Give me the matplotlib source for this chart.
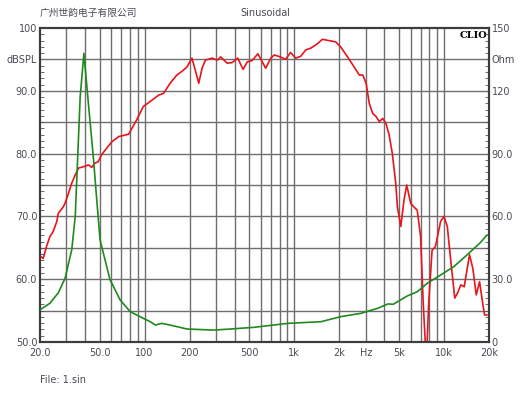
import numpy as np
import matplotlib
matplotlib.use('Agg')
import matplotlib.pyplot as plt
from matplotlib.ticker import FixedLocator, NullFormatter

plt.rcParams['font.family'] = ['DejaVu Sans', 'Noto Sans CJK SC']

# SPL curve (dB)
spl_freq = [20, 21.0, 22.1, 23.3, 24.5, 25.9, 26.5, 28.6, 29.4, 31.0, 32.6, 34.4, 36.2,
            39.0, 42.2, 44.3, 46.6, 49.0, 51.5, 54.3, 60.5, 67.0, 78.3, 88.6, 98.0,
            109, 124, 134, 148, 164, 182, 192, 207, 218, 230, 242, 255, 282, 306, 322,
            356, 385, 419, 455, 485, 522, 571, 644, 697, 734, 808, 874, 945, 1022,
            1105, 1192, 1290, 1430, 1540, 1700, 1890, 2040, 2270, 2510, 2720, 2870,
            3020, 3170, 3340, 3520, 3700, 3900, 4100, 4300, 4520, 4760, 4890, 5150,
            5410, 5640, 5990, 6300, 6630, 6980, 7270, 7520, 7720, 7910, 8330, 8770,
            9500, 10000, 10530, 11090, 11810, 12320, 12970, 13660, 14820, 15600,
            16430, 17300, 18220, 18690, 19380]
spl_db = [63.7, 63.3, 65.2, 66.8, 67.6, 69.2, 70.5, 71.5, 72.1, 73.7, 75.3, 76.6, 77.7,
          77.9, 78.2, 77.8, 78.5, 78.7, 79.8, 80.5, 81.9, 82.7, 83.1, 85.4, 87.5,
          88.3, 89.3, 89.6, 91.2, 92.5, 93.3, 93.8, 95.2, 93.3, 91.2, 93.6, 94.9, 95.2, 94.9, 95.4,
          94.4, 94.5, 95.2, 93.4, 94.6, 94.8, 95.9, 93.6, 95.2, 95.7, 95.4, 95.0, 96.1, 95.2,
          95.5, 96.5, 96.8, 97.5, 98.2, 98.0, 97.8, 97.0, 95.4, 93.8, 92.5, 92.5,
          91.2, 88.0, 86.4, 85.9, 85.1, 85.6, 84.8, 83.0, 80.0, 75.3, 71.5, 68.4,
          72.6, 75.0, 72.1, 71.5, 71.0, 66.8, 56.2, 49.5, 49.8, 56.2, 64.6, 65.2,
          69.2, 70.0, 68.4, 63.1, 57.0, 57.8, 59.1, 58.8, 63.9, 61.7,
          57.5, 59.6, 55.9, 54.3, 54.3]

# Impedance curve (Ohm)
imp_freq = [20, 23.3, 26.5, 29.4, 32.6, 34.4, 35.5, 37.1, 39.3, 42.1, 45.6, 47.9, 50.4,
            58.7, 68.6, 80.1, 98, 109, 118, 130, 148, 192, 289, 375, 536, 904, 1510,
            1890, 2040, 2790, 3610, 4230, 4580, 5690, 6630, 7720, 9500, 11640, 14260,
            17460, 19380]
imp_ohm = [15.4, 18.5, 23.5, 30.4, 44.1, 60.0, 83.7, 117, 137.9, 114, 87, 67.8, 48.7,
           29.8, 20.1, 14.5, 11.3, 9.7, 8.1, 8.9, 8.1, 6.2, 5.7, 6.2, 7.0, 8.9, 9.7,
           11.5, 12.1, 13.7, 16.1, 18.2, 18.0, 22.0, 24.0, 28.0, 32.0, 36.0, 41.6,
           47.4, 51.1]

xtick_pos = [20, 50, 100, 200, 500, 1000, 2000, 3000, 5000, 10000, 20000]
xtick_lab = ['20.0', '50.0', '100', '200', '500', '1k', '2k', 'Hz', '5k', '10k', '20k']
ytick_pos = [50, 60, 70, 80, 90, 95, 100]
ytick_lab = ['50.0', '60.0', '70.0', '80.0', '90.0', 'dBSPL', '100']
rtick_pos = [0, 30, 60, 90, 120, 135, 150]
rtick_lab = ['0', '30.0', '60.0', '90.0', '120', 'Ohm', '150']

txt = '#4a4a55'
fig = plt.figure(figsize=(5.3, 3.98), dpi=100)
ax = fig.add_axes([40 / 530, 56 / 398, 449 / 530, 314 / 398])
ax.set_xscale('log')
ax.set_xlim(20, 20000)
ax.set_ylim(50, 100)

# grid
vlines = list(range(20, 100, 10)) + list(range(100, 1000, 100)) + \
    list(range(1000, 10000, 1000)) + [10000, 20000]
for v in vlines[1:-1]:
    ax.axvline(v, color='#6e6e6e', lw=1.0, zorder=1)
for h in range(55, 100, 5):
    ax.axhline(h, color='#6e6e6e', lw=1.0, zorder=1)

ax.plot(spl_freq, spl_db, color='#e8141c', lw=1.2, zorder=3, clip_on=True)

ax.xaxis.set_major_locator(FixedLocator(xtick_pos))
ax.set_xticklabels(xtick_lab)
ax.xaxis.set_minor_formatter(NullFormatter())
ax.xaxis.set_minor_locator(FixedLocator([]))
ax.tick_params(axis='x', length=0, pad=4, labelsize=7, labelcolor=txt)
ax.set_yticks(ytick_pos)
ax.set_yticklabels(ytick_lab)
ax.yaxis.set_minor_locator(FixedLocator(np.arange(50, 100, 1)))
ax.tick_params(axis='y', which='major', direction='in', length=0, pad=2,
               labelsize=7, labelcolor=txt)
ax.tick_params(axis='y', which='minor', direction='in', length=3, color='#555555')

ax2 = ax.twinx()
ax2.set_ylim(0, 150)
ax2.plot(imp_freq, imp_ohm, color='#1e8a1e', lw=1.2, zorder=4)
ax2.set_yticks(rtick_pos)
ax2.set_yticklabels(rtick_lab)
ax2.yaxis.set_minor_locator(FixedLocator(np.arange(0, 150, 3)))
ax2.tick_params(axis='y', which='major', direction='in', length=0, pad=2,
                labelsize=7, labelcolor=txt)
ax2.tick_params(axis='y', which='minor', direction='in', length=3, color='#555555')

for a in (ax, ax2):
    for s in a.spines.values():
        s.set_color('#3c3c3c')
        s.set_linewidth(1.5)

ax.text(0.995, 0.99, 'CLIO', transform=ax.transAxes, ha='right', va='top',
        fontsize=7, fontweight='bold', family='DejaVu Serif', color='black', zorder=5)
fig.text(40 / 530, 1 - 13 / 398, '广州世韵电子有限公司', ha='left', va='center',
         fontsize=7, color=txt, family=['Noto Sans CJK SC', 'DejaVu Sans'])
fig.text(265 / 530, 1 - 13 / 398, 'Sinusoidal', ha='center', va='center',
         fontsize=7, color=txt)
fig.text(40 / 530, 1 - 380 / 398, 'File: 1.sin', ha='left', va='center',
         fontsize=7, color=txt)

fig.savefig('out.png', dpi=100)
